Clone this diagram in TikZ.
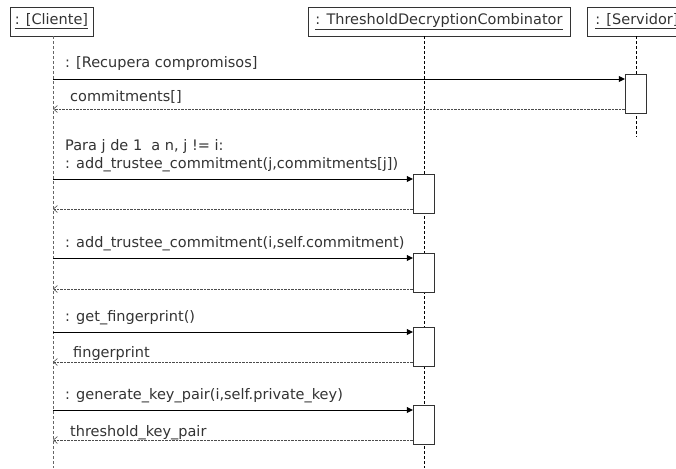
\documentclass[tikz,border=0pt]{standalone}
\usepackage{fontspec}
\setmainfont{DejaVu Sans}
\usetikzlibrary{arrows.meta}
\begin{document}
\begin{tikzpicture}
  [x=1pt,y=-1pt,
   every node/.style={font=\fontsize{14.5}{17}\selectfont, text=black!80, inner sep=0pt},
   obj/.style={draw=black!80, minimum height=29pt, text height=10.5pt, text depth=3.5pt},
   act/.style={draw=black!80, fill=white, minimum width=21pt, minimum height=39pt},
   life/.style={dash pattern=on 3pt off 2pt},
   call/.style={-{Triangle[length=6pt,width=6pt]}},
   ret/.style={densely dotted, black!70, -{Straight Barb[length=4pt,width=7pt,line width=0.6pt]}}]
  \useasboundingbox (0,0) rectangle (676,468);

  % objects
  \node[obj, minimum width=83pt] (cli) at (51.5,21.5) {\underline{: [Cliente]}};
  \node[obj, minimum width=262pt] (thr) at (439,21.5) {\underline{: ThresholdDecryptionCombinator}};
  \node[obj, minimum width=100pt] (srv) at (637,21.5) {\underline{: [Servidor]}};

  % lifelines
  \coordinate (cliB) at (53,468);
  \coordinate (thrB) at (424,468);
  \coordinate (srvB) at (636,137);
  \draw[life, black!60] (cliB |- cli.south) -- (cliB);
  \draw[life] (thrB |- thr.south) -- (thrB);
  \draw[life] (srvB |- srv.south) -- (srvB);

  % activations
  \node[act] (a1) at (635.5,93.5) {};
  \node[act] (a2) at (423.5,193.5) {};
  \node[act] (a3) at (423.5,272.5) {};
  \node[act] (a4) at (423.5,346.5) {};
  \node[act] (a5) at (423.5,424.5) {};

  \foreach \a/\ys/\yr in {a1/79/109, a2/179/209, a3/258/289, a4/332/362, a5/410/440} {
    \draw[call] (cliB |- 0,\ys) -- (\a.west |- 0,\ys);
    \draw[ret] (\a.west |- 0,\yr) -- (cliB |- 0,\yr);
  }

  % labels
  \node[anchor=base west] (m1) at (65,68) {: [Recupera compromisos]};
  \node[anchor=base west] (r1) at (70,102) {commitments[]};
  \node[anchor=base west] (g2) at (65,150) {Para j de 1\ \ a n, j != i:};
  \node[anchor=base west] (m2) at (65,168) {: add\_trustee\_commitment(j,commitments[j])};
  \node[anchor=base west] (m3) at (65,247) {: add\_trustee\_commitment(i,self.commitment)};
  \node[anchor=base west] (m4) at (65,321) {: get\_fingerprint()};
  \node[anchor=base west] (r4) at (73,357) {fingerprint};
  \node[anchor=base west] (m5) at (65,399) {: generate\_key\_pair(i,self.private\_key)};
  \node[anchor=base west] (r5) at (70,436) {threshold\_key\_pair};
\end{tikzpicture}
\end{document}
